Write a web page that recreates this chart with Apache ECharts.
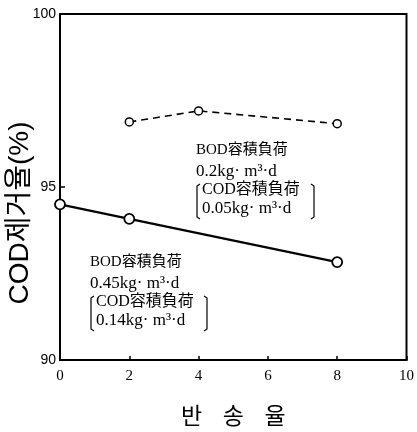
<!DOCTYPE html>
<html>
<head>
<meta charset="utf-8">
<script src="https://cdn.jsdelivr.net/npm/echarts@6/dist/echarts.min.js"></script>
<style>html,body{margin:0;padding:0;background:#fff}#c{width:417px;height:432px}</style>
</head>
<body>
<div id="c"></div>
<script>
var xTicks = [0, 2, 4, 6, 8, 10];
var yTicks = [90, 95, 100];
var solidX = [0, 2, 8];
var solidY = [94.5, 94.08, 92.83];
var dashedX = [2, 4, 8];
var dashedY = [96.88, 97.2, 96.83];
var yName = 'COD제거율(%)';
var xName = '반    송    율';
var note1 = ['BOD容積負荷', '0.2kg· m³·d', 'COD容積負荷', '0.05kg· m³·d'];
var note2 = ['BOD容積負荷', '0.45kg· m³·d', 'COD容積負荷', '0.14kg· m³·d'];

var serif = '"Liberation Serif", "Noto Sans CJK JP", serif';
var chart = echarts.init(document.getElementById('c'));

function pairs(xs, ys) { return xs.map(function (x, i) { return [x, ys[i]]; }); }

function noteGraphics(lines, left, top, rightBr) {
  var g = [];
  var tops = [0, 20, 39, 57];
  var sizes = [15, 17, 16, 17];
  for (var i = 0; i < lines.length; i++) {
    g.push({
      type: 'text', left: (i >= 2 ? left + 6 : left), top: top + tops[i],
      style: { text: lines[i], font: sizes[i] + 'px ' + serif, fill: '#000' }
    });
  }
  var bt = top + 41, bb = top + 76;
  g.push({ type: 'polyline', shape: { points: [[left + 4, bt], [left + 1, bt + 2], [left + 1, bb - 2], [left + 4, bb]] }, style: { stroke: '#000', lineWidth: 1.2, fill: null } });
  g.push({ type: 'polyline', shape: { points: [[rightBr - 3, bt], [rightBr, bt + 2], [rightBr, bb - 2], [rightBr - 3, bb]] }, style: { stroke: '#000', lineWidth: 1.2, fill: null } });
  return g;
}

chart.setOption({
  animation: false,
  grid: { left: 60, top: 14, width: 348, height: 353, show: true, borderColor: '#000', borderWidth: 2, backgroundColor: 'transparent' },
  xAxis: {
    type: 'value', min: xTicks[0], max: xTicks[xTicks.length - 1], interval: 2,
    name: xName, nameLocation: 'middle', nameGap: 44,
    nameTextStyle: { fontFamily: '"Noto Sans CJK KR"', fontSize: 23, color: '#000' },
    axisLine: { show: true, lineStyle: { color: '#000', width: 2 } },
    axisTick: { show: true, inside: true, length: 4, lineStyle: { color: '#000', width: 1.5 } },
    axisLabel: { color: '#000', fontFamily: serif, fontSize: 15, margin: 9 },
    splitLine: { show: false }
  },
  yAxis: {
    type: 'value', min: yTicks[0], max: yTicks[yTicks.length - 1], interval: 5,
    axisLine: { show: true, lineStyle: { color: '#000', width: 2 } },
    axisTick: { show: true, inside: true, length: 5, lineStyle: { color: '#000', width: 1.5 } },
    axisLabel: { color: '#000', fontFamily: '"Liberation Sans"', fontSize: 14, margin: 4 },
    splitLine: { show: false }
  },
  series: [
    {
      type: 'line', data: pairs(solidX, solidY),
      symbol: 'circle', symbolSize: 10,
      lineStyle: { color: '#000', width: 2.2 },
      itemStyle: { color: '#fff', borderColor: '#000', borderWidth: 1.8 }
    },
    {
      type: 'line', data: pairs(dashedX, dashedY),
      symbol: 'circle', symbolSize: 8,
      lineStyle: { color: '#000', width: 1.6, type: [7, 5] },
      itemStyle: { color: '#fff', borderColor: '#000', borderWidth: 1.5 }
    }
  ],
  graphic: [{
    type: 'text', x: 20, y: 213, rotation: Math.PI / 2,
    style: { text: yName, font: '28px "Liberation Sans", "Noto Sans CJK KR"', fill: '#000', align: 'center', verticalAlign: 'middle' }
  }].concat(noteGraphics(note1, 196, 143, 314)).concat(noteGraphics(note2, 90, 255, 207))
});
</script>
</body>
</html>
